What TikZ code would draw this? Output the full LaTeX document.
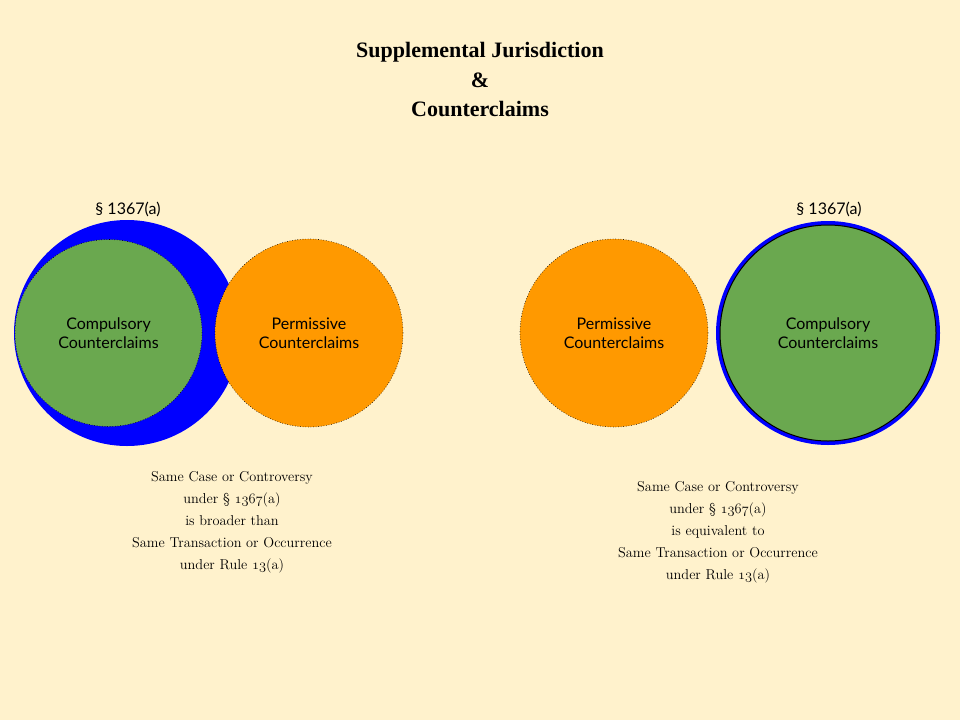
\documentclass[tikz,border=0pt]{standalone}
\usepackage{fontspec}
\newfontfamily\lato{Lato}
\newfontfamily\titlefont{Liberation Serif}
\newcommand\osf[1]{{\usefont{OML}{cmm}{m}{it}#1}}
\definecolor{bgc}{HTML}{FFF2CC}
\definecolor{bluec}{HTML}{0000FF}
\definecolor{greenc}{HTML}{6AA84F}
\definecolor{orangec}{HTML}{FF9900}
\tikzset{
  disc/.style={circle, inner sep=0pt, align=center, font=\lato\fontsize{16}{18.5}\selectfont},
  dotb/.style={draw=black, dotted, line width=0.6pt},
  caption/.style={align=center, font=\fontsize{14.3}{22}\selectfont},
  seclabel/.style={font=\lato\fontsize{16}{18}\selectfont},
}
\begin{document}
\begin{tikzpicture}[x=1pt,y=-1pt]
\useasboundingbox[fill=bgc] (0,0) rectangle (960,720);
% title
\node[align=center, font=\titlefont\bfseries\fontsize{22}{29.5}\selectfont] (title) at (480,80) {Supplemental Jurisdiction\\\&\\Counterclaims};
% left group
\node[disc, fill=bluec, minimum size=226pt] (lblue) at (127,333) {};
\node[disc, fill=greenc, dotb, minimum size=187pt] (lgreen) at (108.5,333) {Compulsory\\Counterclaims};
\node[disc, fill=orangec, dotb, minimum size=188pt] (lorange) at (309,333) {Permissive\\Counterclaims};
\node[seclabel] (lsec) at (128,209) {§ 1367(a)};
\node[caption] (lcap) at (232,522) {Same Case or Controversy\\under § \osf{1367}(a)\\is broader than\\Same Transaction or Occurrence\\under Rule \osf{13}(a)};
% right group
\node[disc, fill=orangec, dotb, minimum size=188pt] (rorange) at (614,333) {Permissive\\Counterclaims};
\node[disc, fill=bluec, minimum size=224pt] (rblue) at (828,333) {};
\node[disc, fill=greenc, draw=black, line width=1pt, minimum size=216pt] (rgreen) at (828,333) {Compulsory\\Counterclaims};
\node[seclabel] (rsec) at (829,209) {§ 1367(a)};
\node[caption] (rcap) at (718,532) {Same Case or Controversy\\under § \osf{1367}(a)\\is equivalent to\\Same Transaction or Occurrence\\under Rule \osf{13}(a)};
\end{tikzpicture}
\end{document}
